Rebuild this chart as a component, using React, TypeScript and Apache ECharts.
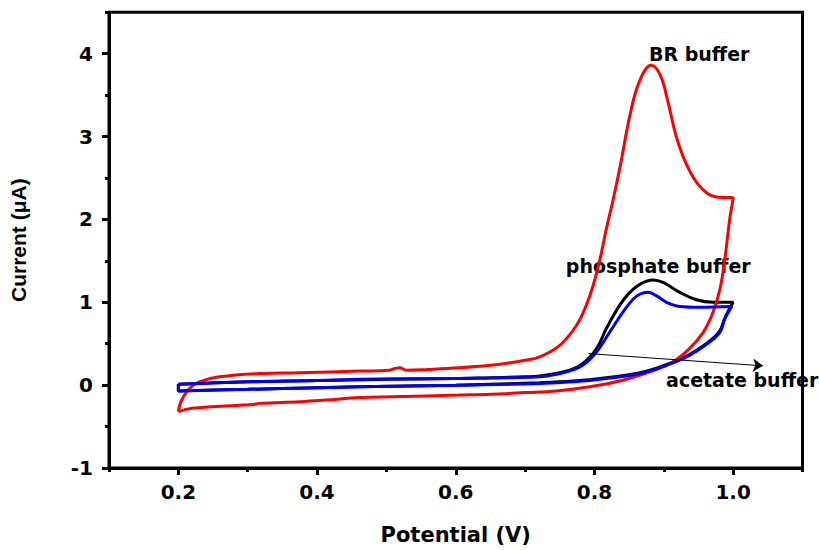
import React, { useEffect, useRef } from "react";
import * as echarts from "echarts";

// Potential (V) / Current (µA) pairs
const brBuffer: [number, number][] = [
  [0.2, -0.32], [0.202, -0.24], [0.206, -0.16], [0.216, -0.04], [0.23, 0.04], [0.259, 0.1],
  [0.317, 0.14], [0.375, 0.15], [0.461, 0.17], [0.504, 0.18], [0.512, 0.2],
  [0.519, 0.21], [0.529, 0.18], [0.56, 0.19], [0.605, 0.21], [0.65, 0.24], [0.678, 0.27],
  [0.7, 0.3], [0.721, 0.34], [0.75, 0.48], [0.774, 0.72], [0.788, 0.96], [0.798, 1.2],
  [0.808, 1.52], [0.817, 1.88], [0.827, 2.24], [0.838, 2.68], [0.851, 3.25],
  [0.865, 3.67], [0.882, 3.86], [0.895, 3.74], [0.906, 3.42], [0.918, 3.0],
  [0.933, 2.66], [0.952, 2.4], [0.976, 2.27], [1.0, 2.26], [0.995, 2.0], [0.988, 1.52],
  [0.981, 1.16], [0.971, 0.88], [0.957, 0.64], [0.937, 0.44], [0.913, 0.28], [0.88, 0.16],
  [0.841, 0.06], [0.793, -0.02], [0.745, -0.07], [0.7, -0.09], [0.65, -0.11], [0.605, -0.12],
  [0.509, -0.14], [0.461, -0.15], [0.413, -0.18], [0.375, -0.2], [0.317, -0.22],
  [0.307, -0.235], [0.293, -0.24], [0.22, -0.28], [0.2, -0.32],
];

const phosphateBuffer: [number, number][] = [
  [0.2, 0.01], [0.3, 0.04], [0.4, 0.055], [0.5, 0.07], [0.6, 0.08], [0.65, 0.09], [0.7, 0.1],
  [0.721, 0.11], [0.76, 0.17], [0.783, 0.26], [0.803, 0.44], [0.817, 0.68], [0.836, 0.96],
  [0.851, 1.12], [0.866, 1.22], [0.884, 1.27], [0.899, 1.24], [0.923, 1.12], [0.947, 1.03],
  [0.971, 1.0], [1.0, 1.0], [0.988, 0.81], [0.981, 0.66], [0.966, 0.53], [0.937, 0.37],
  [0.904, 0.25], [0.866, 0.15], [0.817, 0.09], [0.769, 0.05], [0.721, 0.03], [0.6, 0.0],
  [0.461, -0.02], [0.4, -0.03], [0.3, -0.05], [0.2, -0.07], [0.2, 0.01],
];

const acetateBuffer: [number, number][] = [
  [0.2, 0.01], [0.3, 0.04], [0.4, 0.055], [0.461, 0.07], [0.6, 0.08], [0.65, 0.085], [0.7, 0.095],
  [0.721, 0.1], [0.76, 0.16], [0.783, 0.24], [0.803, 0.4], [0.822, 0.64], [0.841, 0.88],
  [0.856, 1.04], [0.866, 1.1], [0.877, 1.12], [0.889, 1.08], [0.904, 1.0], [0.923, 0.95],
  [0.951, 0.94], [0.998, 0.95], [0.988, 0.8], [0.981, 0.64], [0.966, 0.52], [0.937, 0.36],
  [0.904, 0.24], [0.866, 0.14], [0.817, 0.08], [0.769, 0.04], [0.721, 0.02], [0.6, 0.0],
  [0.461, -0.02], [0.4, -0.03], [0.3, -0.05], [0.2, -0.07], [0.2, 0.01],
];

const xLabelValues = [0.2, 0.4, 0.6, 0.8, 1.0];
const xMinorValues = [0.1, 0.3, 0.5, 0.7, 0.9, 1.1];
const yLabelValues = [-1, 0, 1, 2, 3, 4];
const yMinorValues = [-0.5, 0.5, 1.5, 2.5, 3.5, 4.5];

const annotations = [
  { name: "BR buffer", value: [0.951, 4.0] },
  { name: "phosphate buffer", value: [0.892, 1.44] },
  { name: "acetate buffer", value: [1.013, 0.06] },
];
const arrowFrom = [0.791, 0.381];
const arrowTo = [1.043, 0.233];

export default function App() {
  const ref = useRef<HTMLDivElement>(null);
  useEffect(() => {
    if (!ref.current) return;
    const chart = echarts.init(ref.current, null, { renderer: "svg" });
    const labelFont = { fontFamily: "DejaVu Sans", fontWeight: "bold" as const, fontSize: 20, color: "#000" };
    const minorAxisX = {
      type: "value", min: 0.1, max: 1.1, position: "bottom",
      axisLine: { show: false, onZero: false }, splitLine: { show: false },
      axisLabel: { show: false },
      axisTick: { show: true, customValues: xMinorValues, length: 4, lineStyle: { color: "#000", width: 3 } },
    };
    const minorAxisY = {
      type: "value", min: -1, max: 4.5, position: "left",
      axisLine: { show: false, onZero: false }, splitLine: { show: false },
      axisLabel: { show: false },
      axisTick: { show: true, customValues: yMinorValues, length: 4, lineStyle: { color: "#000", width: 3 } },
    };
    const lineCommon = { smooth: 0.4, showSymbol: false, symbol: "none" };
    chart.setOption({
      animation: false,
      backgroundColor: "#fff",
      grid: {
        left: 109, right: 16.5, top: 12.3, bottom: 77.5,
        show: true, borderColor: "#000", borderWidth: 3, backgroundColor: "transparent",
      },
      xAxis: [
        {
          type: "value", min: 0.1, max: 1.1, position: "bottom",
          name: "Potential (V)", nameLocation: "middle", nameGap: 56,
          nameTextStyle: { fontFamily: "DejaVu Sans", fontWeight: "bold", fontSize: 21, color: "#000" },
          axisLine: { show: true, onZero: false, lineStyle: { color: "#000", width: 3 } },
          splitLine: { show: false },
          axisTick: { show: true, customValues: xLabelValues, length: 7, lineStyle: { color: "#000", width: 3 } },
          axisLabel: { ...labelFont, customValues: xLabelValues, margin: 14, formatter: (v: number) => v.toFixed(1) },
        },
        minorAxisX,
      ],
      yAxis: [
        {
          type: "value", min: -1, max: 4.5, position: "left",
          name: "Current (\u03bcA)", nameLocation: "middle", nameGap: 80, nameRotate: 90,
          nameTextStyle: { fontFamily: "Liberation Sans", fontWeight: "bold", fontSize: 21, color: "#000" },
          axisLine: { show: true, onZero: false, lineStyle: { color: "#000", width: 3 } },
          splitLine: { show: false },
          axisTick: { show: true, customValues: yLabelValues, length: 7, lineStyle: { color: "#000", width: 3 } },
          axisLabel: { ...labelFont, customValues: yLabelValues, margin: 16 },
        },
        minorAxisY,
      ],
      series: [
        { type: "line", name: "phosphate buffer", data: phosphateBuffer, ...lineCommon, lineStyle: { color: "#000", width: 3 } },
        { type: "line", name: "BR buffer", data: brBuffer, ...lineCommon, lineStyle: { color: "#ff0000", width: 3 } },
        { type: "line", name: "acetate buffer", data: acetateBuffer, ...lineCommon, lineStyle: { color: "#0000ff", width: 3 } },
        {
          type: "scatter", data: annotations, symbolSize: 0, silent: true,
          itemStyle: { opacity: 1 },
          label: {
            show: true, position: "inside", formatter: (p: any) => p.name, opacity: 1,
            fontFamily: "DejaVu Sans", fontWeight: "bold", fontSize: 19, color: "#000",
            textBorderWidth: 0,
          },
          markLine: {
            silent: true, symbol: ["none", "arrow"], symbolSize: 10,
            label: { show: false },
            lineStyle: { color: "#000", width: 1, type: "solid", opacity: 1 },
            data: [[{ coord: arrowFrom }, { coord: arrowTo }]],
          },
        },
      ],
    });
    return () => chart.dispose();
  }, []);
  return <div ref={ref} style={{ position: "fixed", left: 0, top: 0, width: 819, height: 550 }} />;
}
